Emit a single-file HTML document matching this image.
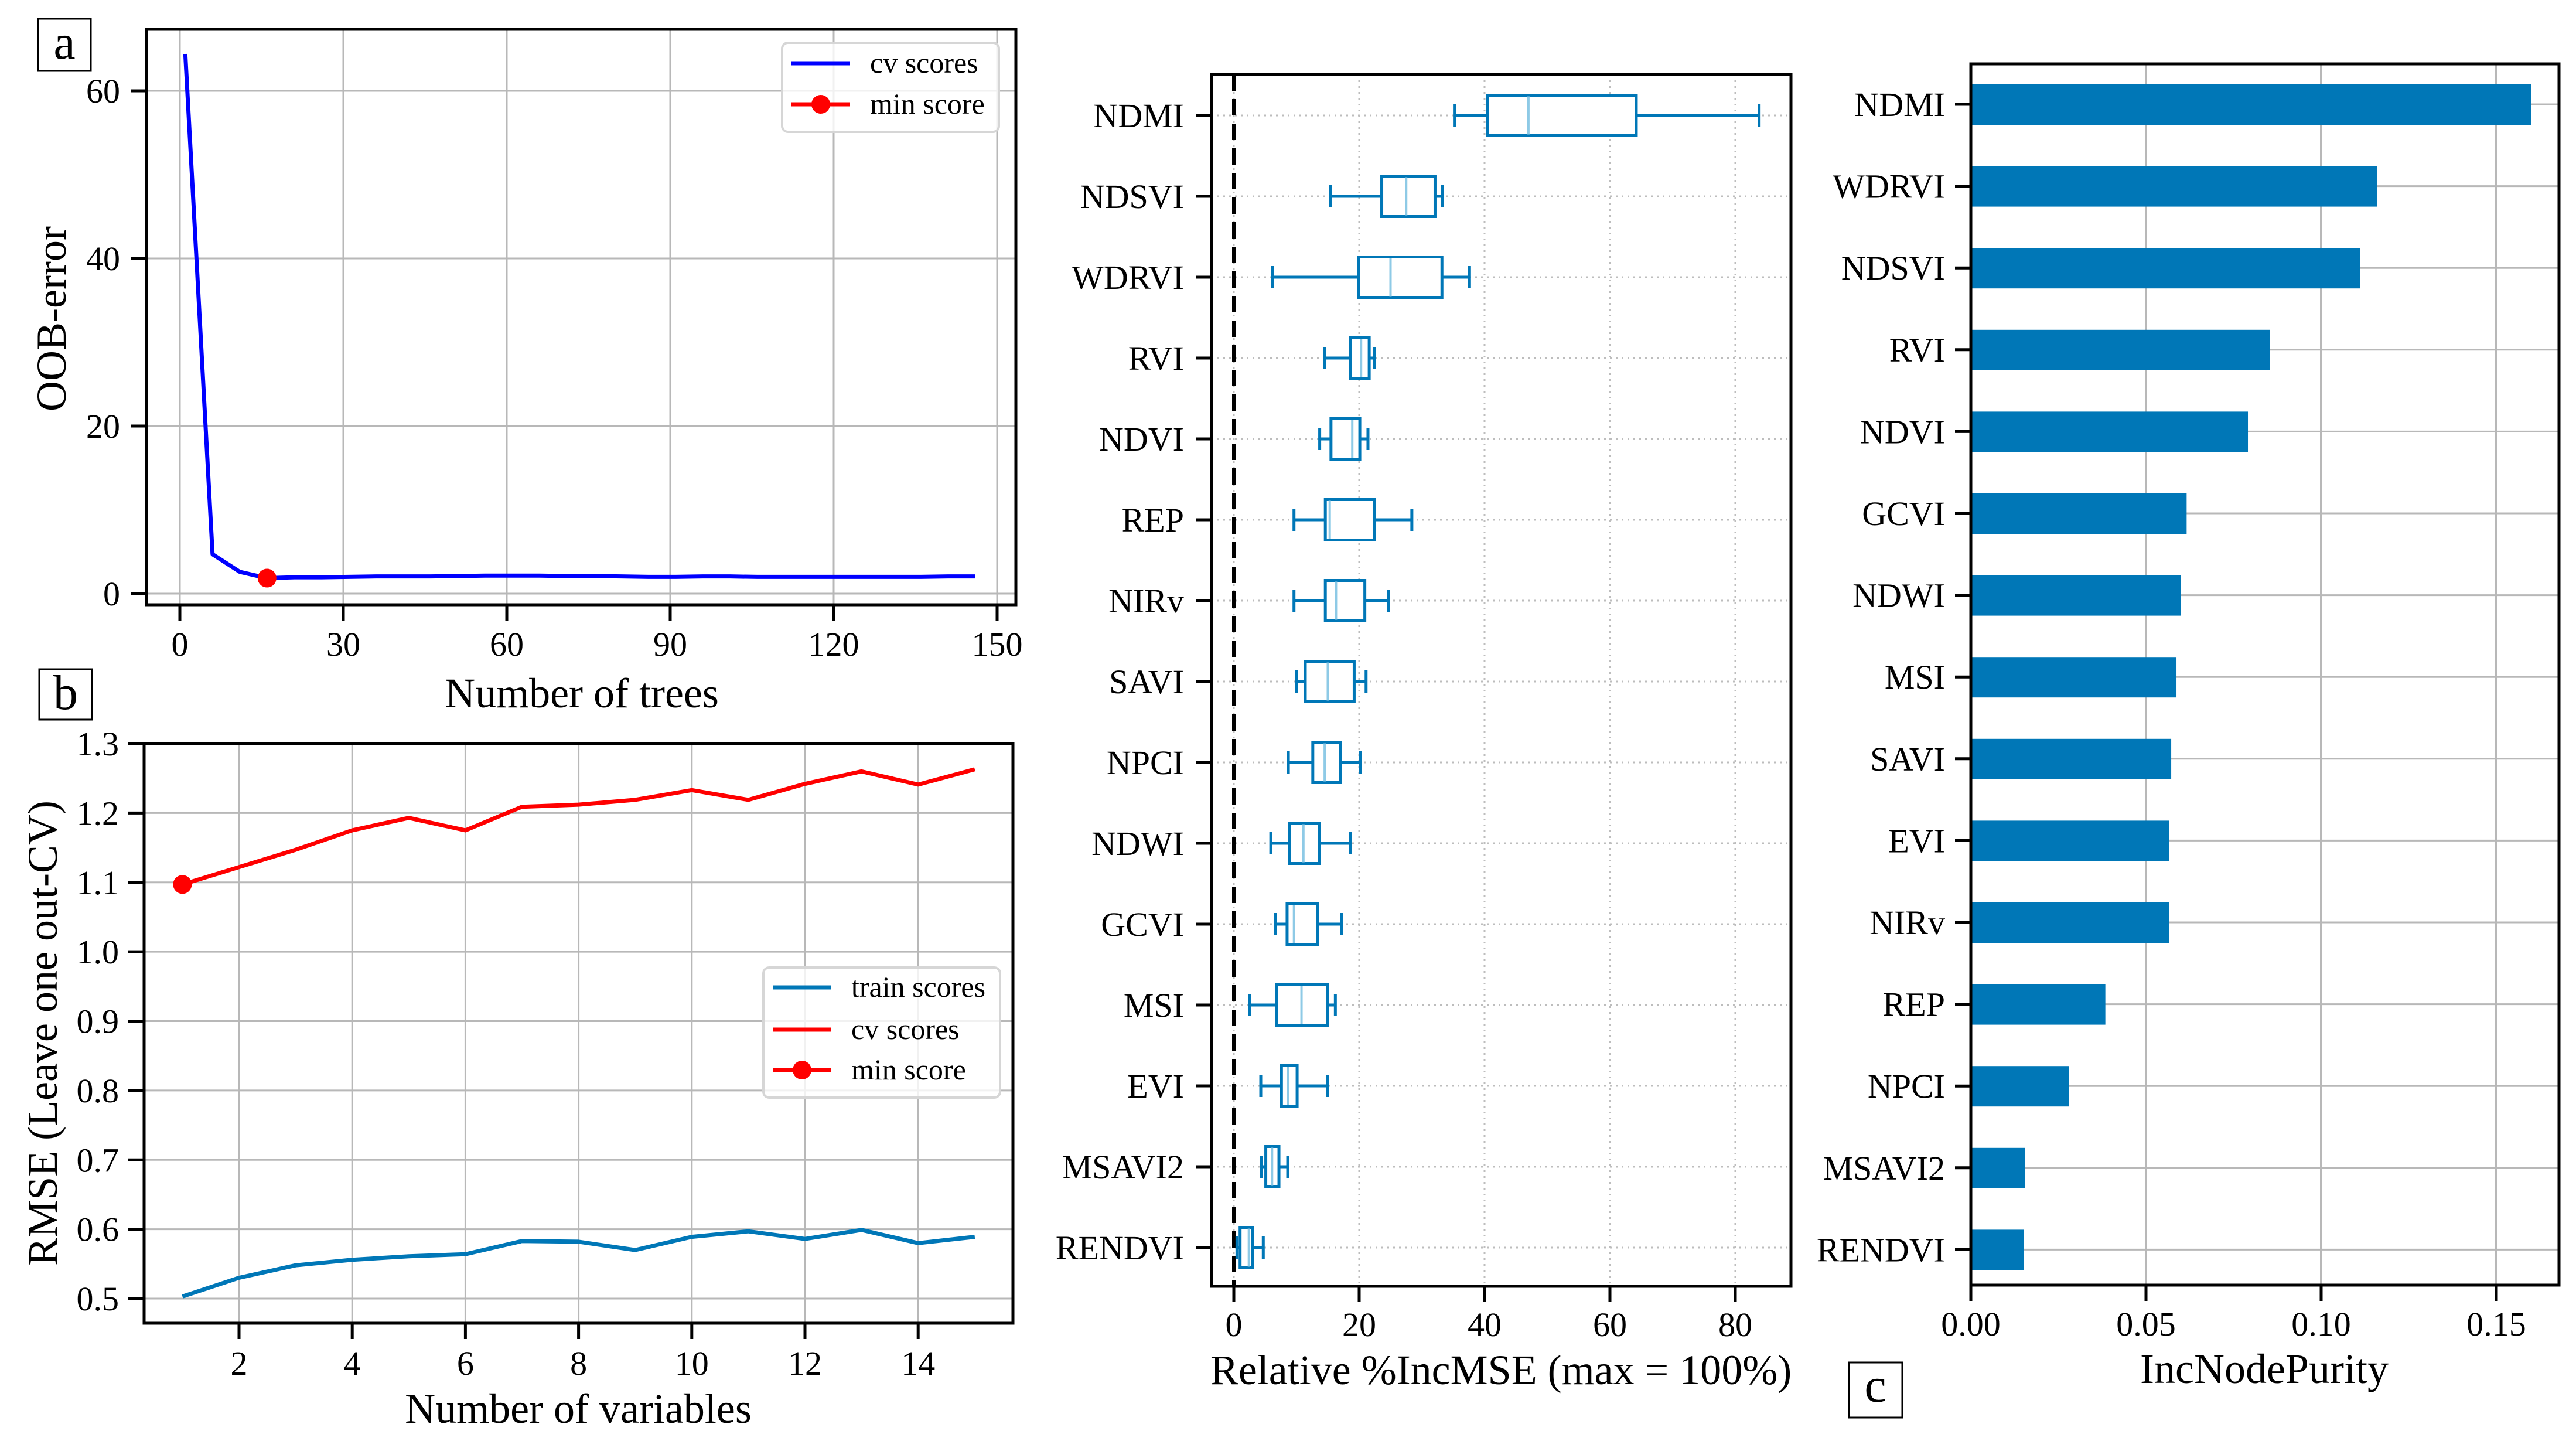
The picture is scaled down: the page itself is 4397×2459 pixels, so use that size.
<!DOCTYPE html>
<html><head><meta charset="utf-8">
<style>
html,body{margin:0;padding:0;background:#fff;}
svg{display:block;font-family:"Liberation Serif",serif;}
</style></head>
<body>
<svg id="fig" width="4397" height="2459" viewBox="0 0 4397 2459" xmlns="http://www.w3.org/2000/svg"></svg>
<script>
// ---------- Panel a data ----------
const treesX = [1,6,11,16,21,26,31,36,41,46,51,56,61,66,71,76,81,86,91,96,101,106,111,116,121,126,131,136,141,146];
const treesErr = [64.4,4.7,2.6,1.85,1.95,1.95,2.0,2.05,2.05,2.05,2.1,2.15,2.15,2.15,2.1,2.1,2.05,2.0,2.0,2.05,2.05,2.0,2.0,2.0,2.0,2.0,2.0,2.0,2.05,2.05];
const treesMinX = [16];
const treesMinY = [1.85];
const aXTicks = [0,30,60,90,120,150];
const aYTicks = [0,20,40,60];
// ---------- Panel b data ----------
const varsX = [1,2,3,4,5,6,7,8,9,10,11,12,13,14,15];
const cvScores = [1.097,1.122,1.147,1.175,1.193,1.175,1.209,1.212,1.219,1.233,1.219,1.242,1.260,1.241,1.263];
const trainScores = [0.503,0.530,0.548,0.556,0.561,0.564,0.583,0.582,0.570,0.589,0.597,0.586,0.599,0.580,0.589];
const bXTicks = [2,4,6,8,10,12,14];
const bYTicks = [0.5,0.6,0.7,0.8,0.9,1.0,1.1,1.2,1.3];
const bYTickLabels = ["0.5","0.6","0.7","0.8","0.9","1.0","1.1","1.2","1.3"];
// ---------- Panel middle (boxplot) data ----------
const boxNames = ["NDMI","NDSVI","WDRVI","RVI","NDVI","REP","NIRv","SAVI","NPCI","NDWI","GCVI","MSI","EVI","MSAVI2","RENDVI"];
const boxWhiskLo = [35.2,15.4,6.2,14.5,13.7,9.6,9.6,10.0,8.7,5.9,6.6,2.5,4.3,4.4,0.5];
const boxQ1 = [40.5,23.6,19.9,18.6,15.5,14.6,14.6,11.4,12.6,8.9,8.5,6.8,7.6,5.1,1.0];
const boxMed = [47.0,27.5,25.0,20.3,18.9,15.3,16.3,15.0,14.5,11.1,9.6,10.8,8.6,6.1,2.4];
const boxQ3 = [64.2,32.1,33.2,21.6,20.1,22.4,20.9,19.2,17.0,13.6,13.4,15.0,10.1,7.2,3.0];
const boxWhiskHi = [83.8,33.3,37.6,22.4,21.4,28.4,24.7,21.1,20.2,18.6,17.2,16.2,15.0,8.6,4.7];
const mXTicks = [0,20,40,60,80];
// ---------- Panel c data ----------
const barNames = ["NDMI","WDRVI","NDSVI","RVI","NDVI","GCVI","NDWI","MSI","SAVI","EVI","NIRv","REP","NPCI","MSAVI2","RENDVI"];
const barValues = [0.1599,0.1159,0.1111,0.0854,0.0791,0.0616,0.0599,0.0587,0.0572,0.0566,0.0566,0.0384,0.0280,0.0155,0.0152];
const cXTicks = [0,0.05,0.10,0.15];
const cXTickLabels = ["0.00","0.05","0.10","0.15"];

const NS = "http://www.w3.org/2000/svg";
const svg = document.getElementById('fig');
const TS = 58, AT = 72;
function el(tag, attrs, parent, name, inter) {
  const e = document.createElementNS(NS, tag);
  for (const k in attrs) e.setAttribute(k, attrs[k]);
  
  
  (parent || svg).appendChild(e);
  return e;
}
function txt(s, x, y, size, anchor, parent, name, extra) {
  const t = el('text', Object.assign({x:x, y:y, 'font-size':size, 'text-anchor':anchor||'middle', fill:'#000'}, extra||{}), parent, name, false);
  t.textContent = s;
  return t;
}
const GRID = '#b8b8b8';
const BLUE = '#0077b7';

// ===== Panel a =====
(function(){
  const L=250,R=1734,T=50,B=1032;
  const sx = v => 307 + v*9.3;
  const sy = v => 1013 - v*14.3;
  const g = el('g', {}, svg, 'panel-a', false);
  aXTicks.forEach(v=>{
    el('line',{x1:sx(v),x2:sx(v),y1:T,y2:B,stroke:GRID,'stroke-width':3},g,'a-x-gridline',false);
    el('line',{x1:sx(v),x2:sx(v),y1:B,y2:B+27,stroke:'#000','stroke-width':5},g,'a-x-tick',false);
    txt(String(v), sx(v), 1119, TS, 'middle', g, 'a-x-tick-label');
  });
  aYTicks.forEach(v=>{
    el('line',{x1:L,x2:R,y1:sy(v),y2:sy(v),stroke:GRID,'stroke-width':3},g,'a-y-gridline',false);
    el('line',{x1:L-27,x2:L,y1:sy(v),y2:sy(v),stroke:'#000','stroke-width':5},g,'a-y-tick',false);
    txt(String(v), 205, sy(v)+20, TS, 'end', g, 'a-y-tick-label');
  });
  const pts = treesX.map((x,i)=>sx(x)+','+sy(treesErr[i])).join(' ');
  el('polyline',{points:pts,fill:'none',stroke:'#0000ff','stroke-width':7,'stroke-linejoin':'round'},g,'cv-scores-line',false);
  treesMinX.forEach((x,i)=>{
    el('circle',{cx:sx(x),cy:sy(treesMinY[i]),r:16,fill:'#ff0000'},g,'min-score-marker',false);
  });
  el('rect',{x:L,y:T,width:R-L,height:B-T,fill:'none',stroke:'#000','stroke-width':5},g,'a-plot-frame',false);
  const lg = el('g',{},g,'a-legend',false);
  el('rect',{x:1335,y:73,width:370,height:152,rx:10,fill:'rgba(255,255,255,0.8)',stroke:'#d6d6d6','stroke-width':4},lg,'a-legend-box',false);
  el('line',{x1:1351,x2:1451,y1:108,y2:108,stroke:'#0000ff','stroke-width':7},lg,'legend-cv-scores-swatch',false);
  txt('cv scores',1485,124,50,'start',lg,'legend-cv-scores-label');
  el('line',{x1:1351,x2:1451,y1:178,y2:178,stroke:'#ff0000','stroke-width':7},lg,'legend-min-score-swatch',false);
  el('circle',{cx:1401,cy:178,r:16,fill:'#ff0000'},lg,'legend-min-score-marker',false);
  txt('min score',1485,194,50,'start',lg,'legend-min-score-label');
  txt('Number of trees',993,1207,AT,'middle',g,'a-x-axis-title');
  txt('OOB-error',0,0,AT,'middle',g,'a-y-axis-title',{transform:'translate(112,544) rotate(-90)'});
  el('rect',{x:65,y:32,width:90,height:89,fill:'#fff',stroke:'#000','stroke-width':3},g,'panel-a-label-box',false);
  txt('a',110,100,84,'middle',g,'panel-a-label');
})();

// ===== Panel b =====
(function(){
  const L=246,R=1729,T=1269,B=2258;
  const sx = v => 408 + (v-2)*96.6;
  const sy = v => 2216 - (v-0.5)*(2216-1269)/0.8;
  const g = el('g', {}, svg, 'panel-b', false);
  bXTicks.forEach(v=>{
    el('line',{x1:sx(v),x2:sx(v),y1:T,y2:B,stroke:GRID,'stroke-width':3},g,'b-x-gridline',false);
    el('line',{x1:sx(v),x2:sx(v),y1:B,y2:B+27,stroke:'#000','stroke-width':5},g,'b-x-tick',false);
    txt(String(v), sx(v), 2346, TS, 'middle', g, 'b-x-tick-label');
  });
  bYTicks.forEach((v,i)=>{
    el('line',{x1:L,x2:R,y1:sy(v),y2:sy(v),stroke:GRID,'stroke-width':3},g,'b-y-gridline',false);
    el('line',{x1:L-27,x2:L,y1:sy(v),y2:sy(v),stroke:'#000','stroke-width':5},g,'b-y-tick',false);
    txt(bYTickLabels[i], 203, sy(v)+20, TS, 'end', g, 'b-y-tick-label');
  });
  el('polyline',{points:varsX.map((x,i)=>sx(x)+','+sy(trainScores[i])).join(' '),fill:'none',stroke:BLUE,'stroke-width':7,'stroke-linejoin':'round'},g,'train-scores-line',false);
  el('polyline',{points:varsX.map((x,i)=>sx(x)+','+sy(cvScores[i])).join(' '),fill:'none',stroke:'#ff0000','stroke-width':7,'stroke-linejoin':'round'},g,'cv-scores-line',false);
  let mi=0; cvScores.forEach((v,i)=>{ if(v<cvScores[mi]) mi=i; });
  el('circle',{cx:sx(varsX[mi]),cy:sy(cvScores[mi]),r:16,fill:'#ff0000'},g,'min-score-marker',false);
  el('rect',{x:L,y:T,width:R-L,height:B-T,fill:'none',stroke:'#000','stroke-width':5},g,'b-plot-frame',false);
  const lg = el('g',{},g,'b-legend',false);
  el('rect',{x:1303,y:1651,width:404,height:222,rx:10,fill:'rgba(255,255,255,0.8)',stroke:'#d6d6d6','stroke-width':4},lg,'b-legend-box',false);
  el('line',{x1:1320,x2:1418,y1:1685,y2:1685,stroke:BLUE,'stroke-width':7},lg,'legend-train-scores-swatch',false);
  txt('train scores',1453,1701,50,'start',lg,'legend-train-scores-label');
  el('line',{x1:1320,x2:1418,y1:1757,y2:1757,stroke:'#ff0000','stroke-width':7},lg,'legend-cv-scores-swatch',false);
  txt('cv scores',1453,1773,50,'start',lg,'legend-cv-scores-label');
  el('line',{x1:1320,x2:1418,y1:1826,y2:1826,stroke:'#ff0000','stroke-width':7},lg,'legend-min-score-swatch',false);
  el('circle',{cx:1369,cy:1826,r:16,fill:'#ff0000'},lg,'legend-min-score-marker',false);
  txt('min score',1453,1842,50,'start',lg,'legend-min-score-label');
  txt('Number of variables',987,2428,AT,'middle',g,'b-x-axis-title');
  txt('RMSE (Leave one out-CV)',0,0,AT,'middle',g,'b-y-axis-title',{transform:'translate(97,1763) rotate(-90)'});
  el('rect',{x:67,y:1142,width:90,height:86,fill:'#fff',stroke:'#000','stroke-width':3},g,'panel-b-label-box',false);
  txt('b',112,1210,84,'middle',g,'panel-b-label');
})();

// ===== Middle boxplot =====
(function(){
  const L=2068,R=3057,T=127,B=2195;
  const sx = v => 2106 + v*10.7;
  const sy = i => 197 + i*138;
  const g = el('g', {}, svg, 'panel-boxplot', false);
  mXTicks.forEach(v=>{
    el('line',{x1:sx(v),x2:sx(v),y1:T,y2:B,stroke:'#bdbdbd','stroke-width':3,'stroke-dasharray':'3,7'},g,'box-x-gridline',false);
    el('line',{x1:sx(v),x2:sx(v),y1:B,y2:B+27,stroke:'#000','stroke-width':5},g,'box-x-tick',false);
    txt(String(v), sx(v), 2280, TS, 'middle', g, 'box-x-tick-label');
  });
  boxNames.forEach((n,i)=>{
    const y = sy(i);
    el('line',{x1:L,x2:R,y1:y,y2:y,stroke:'#bdbdbd','stroke-width':3,'stroke-dasharray':'3,7'},g,'box-y-gridline',false);
    el('line',{x1:L-27,x2:L,y1:y,y2:y,stroke:'#000','stroke-width':5},g,'box-y-tick',false);
    txt(n, 2021, y+20, TS, 'end', g, 'box-y-tick-label');
  });
  el('line',{x1:sx(0),x2:sx(0),y1:T,y2:B,stroke:'#000','stroke-width':6,'stroke-dasharray':'28,14'},g,'zero-reference-line',false);
  boxNames.forEach((n,i)=>{
    const y = sy(i), h=69;
    const bg = el('g',{},g,'box-'+n.toLowerCase(),false);
    el('line',{x1:sx(boxWhiskLo[i]),x2:sx(boxQ1[i]),y1:y,y2:y,stroke:BLUE,'stroke-width':5},bg,'whisker-low',false);
    el('line',{x1:sx(boxQ3[i]),x2:sx(boxWhiskHi[i]),y1:y,y2:y,stroke:BLUE,'stroke-width':5},bg,'whisker-high',false);
    el('line',{x1:sx(boxWhiskLo[i]),x2:sx(boxWhiskLo[i]),y1:y-19,y2:y+19,stroke:BLUE,'stroke-width':5},bg,'cap-low',false);
    el('line',{x1:sx(boxWhiskHi[i]),x2:sx(boxWhiskHi[i]),y1:y-19,y2:y+19,stroke:BLUE,'stroke-width':5},bg,'cap-high',false);
    el('rect',{x:sx(boxQ1[i]),y:y-h/2,width:sx(boxQ3[i])-sx(boxQ1[i]),height:h,fill:'#fff',stroke:BLUE,'stroke-width':5},bg,'iqr-box',false);
    el('line',{x1:sx(boxMed[i]),x2:sx(boxMed[i]),y1:y-h/2+2,y2:y+h/2-2,stroke:'#8ecae6','stroke-width':4},bg,'median-line',false);
  });
  el('rect',{x:L,y:T,width:R-L,height:B-T,fill:'none',stroke:'#000','stroke-width':5},g,'box-plot-frame',false);
  txt('Relative %IncMSE (max = 100%)',2562,2362,AT,'middle',g,'box-x-axis-title');
})();

// ===== Panel c =====
(function(){
  const L=3364,R=4368,T=109,B=2193;
  const sx = v => 3364 + v*5980;
  const sy = i => 178 + i*139.6;
  const g = el('g', {}, svg, 'panel-c', false);
  cXTicks.forEach((v,i)=>{
    el('line',{x1:sx(v),x2:sx(v),y1:T,y2:B,stroke:GRID,'stroke-width':4},g,'c-x-gridline',false);
    el('line',{x1:sx(v),x2:sx(v),y1:B,y2:B+27,stroke:'#000','stroke-width':5},g,'c-x-tick',false);
    txt(cXTickLabels[i], sx(v), 2279, TS, 'middle', g, 'c-x-tick-label');
  });
  barNames.forEach((n,i)=>{
    const y=sy(i);
    el('line',{x1:L,x2:R,y1:y,y2:y,stroke:GRID,'stroke-width':3},g,'c-y-gridline',false);
    el('line',{x1:L-27,x2:L,y1:y,y2:y,stroke:'#000','stroke-width':5},g,'c-y-tick',false);
    txt(n, 3320, y+20, TS, 'end', g, 'c-y-tick-label');
  });
  barNames.forEach((n,i)=>{
    el('rect',{x:sx(0),y:sy(i)-34,width:sx(barValues[i])-sx(0),height:69,fill:BLUE},g,'bar-'+n.toLowerCase(),false);
  });
  el('rect',{x:L,y:T,width:R-L,height:B-T,fill:'none',stroke:'#000','stroke-width':5},g,'c-plot-frame',false);
  txt('IncNodePurity',3865,2360,AT,'middle',g,'c-x-axis-title');
  el('rect',{x:3156,y:2325,width:91,height:94,fill:'#fff',stroke:'#000','stroke-width':3},g,'panel-c-label-box',false);
  txt('c',3201,2392,84,'middle',g,'panel-c-label');
})();
</script>
</body></html>
